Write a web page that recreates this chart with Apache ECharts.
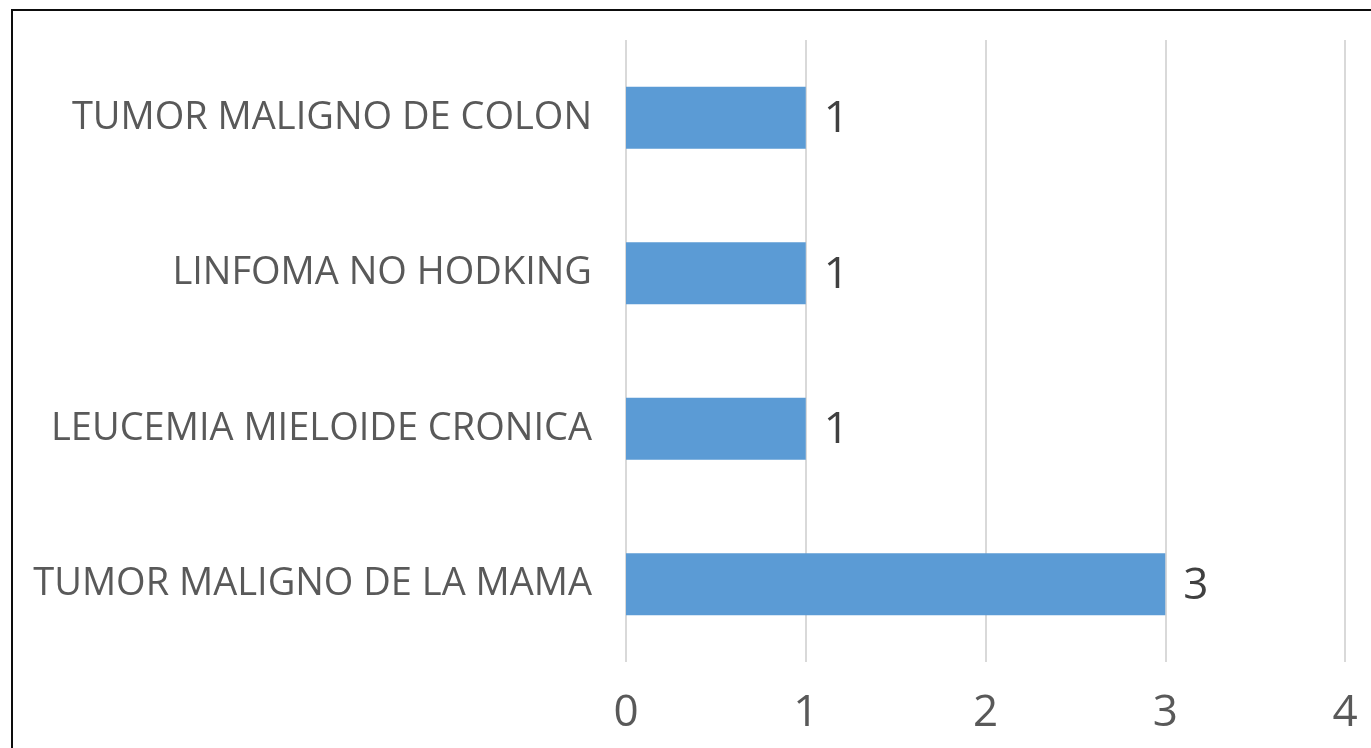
<!DOCTYPE html>
<html>
<head>
<meta charset="utf-8">
<script src="https://cdn.jsdelivr.net/npm/echarts@6/dist/echarts.min.js"></script>
<style>
    html, body {
        margin: 0;
        padding: 0;
        width: 1371px;
        height: 748px;
        overflow: hidden;
        background: #ffffff;
    }
    .frame {
        position: absolute;
        left: 11px;
        top: 9px;
        width: 1400px;
        height: 800px;
        border: 2px solid #0d0d0d;
        box-sizing: border-box;
    }
    #chart_1 {
        position: absolute;
        left: 0;
        top: 0;
        width: 1371px;
        height: 748px;
    }
</style>
</head>
<body>
<div class="frame"></div>
<div id="chart_1"></div>
<script>
// categories bottom -> top
const categories = ['TUMOR MALIGNO DE LA MAMA', 'LEUCEMIA MIELOIDE CRONICA', 'LINFOMA NO HODKING', 'TUMOR MALIGNO DE COLON'];
const values = [3, 1, 1, 1];
const tickLabels = ['0', '1', '2', '3', '4'];

const fontFamily = '"Open Sans", "Noto Sans", sans-serif';

let myChart = echarts.init(document.getElementById('chart_1'));
let option = {
    backgroundColor: 'transparent',
    animation: false,
    grid: {
        left: 626,
        right: 26,
        top: 40,
        bottom: 86,
        containLabel: false
    },
    xAxis: {
        type: 'value',
        min: 0,
        max: 4,
        interval: 1,
        axisLine: { show: false },
        axisTick: { show: false },
        splitLine: {
            show: true,
            lineStyle: { color: '#d9d9d9', width: 2 }
        },
        axisLabel: {
            color: '#595959',
            fontSize: 44,
            fontFamily: fontFamily,
            margin: 29,
            formatter: function (v) { return tickLabels[v]; }
        }
    },
    yAxis: {
        type: 'category',
        data: categories,
        axisLine: { show: false },
        axisTick: { show: false },
        axisLabel: {
            color: '#595959',
            fontSize: 38,
            fontFamily: fontFamily,
            margin: 34,
            padding: [3, 0, 0, 0]
        }
    },
    series: [
        {
            type: 'bar',
            data: values,
            barCategoryGap: '60%',
            itemStyle: { color: '#5b9bd5' },
            label: {
                show: true,
                position: 'right',
                distance: 18,
                offset: [0, 2],
                color: '#404040',
                fontSize: 44,
                fontFamily: fontFamily
            }
        }
    ]
};
myChart.setOption(option);
</script>
</body>
</html>
